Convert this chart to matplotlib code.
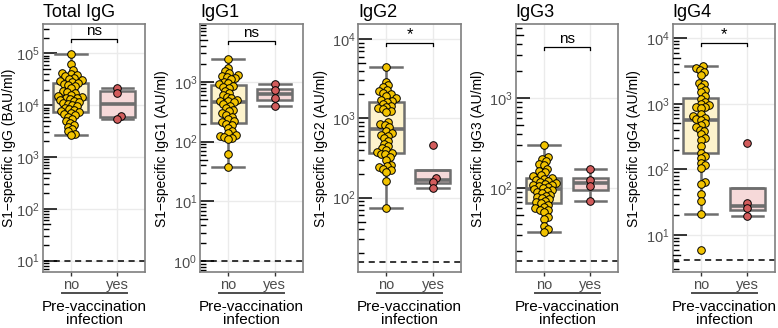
#!/usr/bin/env python3

import numpy as np
import matplotlib.pyplot as plt
import matplotlib.transforms as mtransforms
from matplotlib import cbook
from matplotlib.ticker import LogLocator, NullFormatter

plt.rcParams['font.family'] = ['Liberation Sans', 'DejaVu Sans']
plt.rcParams['mathtext.fontset'] = 'custom'
plt.rcParams['mathtext.rm'] = 'Liberation Sans'
plt.rcParams['mathtext.it'] = 'Liberation Sans:italic'
plt.rcParams['mathtext.bf'] = 'Liberation Sans:bold'

titles = ["Total IgG", "IgG1", "IgG2", "IgG3", "IgG4"]
ylabels = ["S1\u2212specific IgG (BAU/ml)", "S1\u2212specific IgG1 (AU/ml)",
           "S1\u2212specific IgG2 (AU/ml)", "S1\u2212specific IgG3 (AU/ml)",
           "S1\u2212specific IgG4 (AU/ml)"]
categories = ["no", "yes"]
signif = ["ns", "ns", "*", "ns", "*"]
lod = [10, 1, 15.6, 15.6, 4.1]

# values, group "no" (no pre-vaccination infection)
total_no = [95000, 62000, 48000, 42000, 40000, 38000, 36000, 34000, 32000, 30000,
            29000, 28000, 27000, 26000, 25000, 23000, 21000, 19000, 18000, 17000,
            16000, 15000, 14500, 14000, 13500, 13000, 12500, 12000, 11500, 11000,
            10500, 10000, 9500, 9000, 8600, 8200, 7800, 7400, 7100, 6800,
            6400, 6000, 5500, 5000, 4600, 4200, 3800, 3500, 3100, 2800, 2600]
igg1_no = [2400, 1700, 1500, 1400, 1300, 1250, 1200, 1150, 1100, 1000,
           950, 900, 850, 820, 780, 700, 650, 600, 560, 530,
           500, 480, 470, 450, 420, 400, 370, 340, 320, 300,
           280, 260, 240, 220, 210, 200, 190, 170, 150, 140,
           130, 125, 120, 115, 110, 62, 37]
igg2_no = [4400, 2900, 2600, 2500, 2300, 2200, 2100, 2000, 1900, 1800,
           1700, 1650, 1600, 1500, 1450, 1400, 1350, 1300, 1250, 1200,
           900, 850, 820, 780, 700, 650, 620, 600, 560, 520,
           480, 450, 420, 400, 380, 370, 360, 350, 330, 300,
           260, 250, 240, 230, 220, 210, 160, 75]
igg3_no = [300, 220, 210, 200, 185, 180, 165, 155, 150, 140,
           135, 130, 128, 125, 120, 118, 115, 112, 110, 108,
           105, 103, 100, 98, 95, 92, 90, 88, 85, 82,
           80, 78, 75, 72, 70, 68, 65, 62, 60, 58,
           57, 55, 48, 45, 38, 35, 33]
igg4_no = [3800, 3500, 3300, 3000, 2700, 2100, 2000, 1800, 1600, 1500,
           1300, 1200, 1050, 1000, 950, 900, 880, 850, 700, 650,
           600, 580, 560, 500, 470, 440, 400, 380, 340, 300,
           280, 230, 180, 160, 150, 125, 115, 105, 65, 60,
           42, 33, 21, 6]

# group "yes"
total_yes = [21500, 17500, 6200, 5400]
igg1_yes = [900, 720, 530, 400]
igg2_yes = [455, 176, 159, 131]
igg3_yes = [162, 122, 106, 73]
igg4_yes = [254, 31, 25.4, 19.7]

no_groups = [total_no, igg1_no, igg2_no, igg3_no, igg4_no]
yes_groups = [total_yes, igg1_yes, igg2_yes, igg3_yes, igg4_yes]

ylims_log = [(0.78, 5.56), (-0.18, 3.96), (1.063, 4.185), (1.07, 3.82), (0.436, 4.21)]
bracket_y = [0.94, 0.932, 0.923, 0.91, 0.923]
lefts = [42.7, 200.0, 358.3, 515.7, 672.7]
ylabel_x = [-0.325, -0.37, -0.36, -0.37, -0.38]

grey = '#6E6E6E'
txt_grey = '#4D4D4D'
fills = ['#FDF3CC', '#F6D9D9']
pt_cols = ['#F2C300', '#D25C5C']


def log_stats(vals):
    # ggplot computes the box on the log scale
    st = cbook.boxplot_stats(np.log10(vals), whis=1.5)[0]
    for k in ('med', 'q1', 'q3', 'whislo', 'whishi', 'mean'):
        st[k] = 10 ** st[k]
    st['fliers'] = []
    return st


def swarm(ypix, dist):
    order = np.argsort(ypix)
    xs = np.zeros(len(ypix))
    placed = []
    for i in order:
        y = ypix[i]
        cands = [0.0]
        for j in placed:
            dy = y - ypix[j]
            if abs(dy) < dist:
                dx = np.sqrt(dist ** 2 - dy ** 2)
                cands += [xs[j] + dx, xs[j] - dx]
        cands.sort(key=abs)
        for c in cands:
            if all((c - xs[j]) ** 2 + (y - ypix[j]) ** 2 >= dist ** 2 - 1e-6 for j in placed):
                xs[i] = c
                break
        placed.append(i)
    return xs


W, H = 778, 328
fig = plt.figure(figsize=(W / 100, H / 100), dpi=100)

for p in range(5):
    ax = fig.add_axes([lefts[p] / W, (H - 272) / H, 102.7 / W, 247.7 / H])
    ax.set_yscale('log')
    ax.set_xlim(0.4, 2.6)
    ax.set_ylim(10 ** ylims_log[p][0], 10 ** ylims_log[p][1])

    ax.grid(True, which='major', color='#EBEBEB', lw=1.0)
    ax.set_axisbelow(True)
    for s in ax.spines.values():
        s.set_color('#7F7F7F')
        s.set_linewidth(1.2)

    ax.axhline(lod[p], color='black', ls=(0, (4, 3)), lw=1.1, zorder=1.5)

    stats = [log_stats(no_groups[p]), log_stats(yes_groups[p])]
    bp = ax.bxp(stats, positions=[1, 2], widths=0.75, capwidths=0.68,
                patch_artist=True, showfliers=False,
                boxprops=dict(edgecolor=grey, linewidth=1.8),
                whiskerprops=dict(color=grey, linewidth=1.8),
                capprops=dict(color=grey, linewidth=1.8),
                medianprops=dict(color=grey, linewidth=2.6))
    for box, fc in zip(bp['boxes'], fills):
        box.set_facecolor(fc)

    # beeswarm layout in pixel space
    fig.canvas.draw()
    xscale = 2.2 / 102.7
    for g, vals in enumerate([no_groups[p], yes_groups[p]]):
        vals = np.array(vals, dtype=float)
        ypix = ax.transData.transform(np.column_stack([np.ones(len(vals)), vals]))[:, 1]
        off = swarm(ypix, 4.6)
        ax.scatter(g + 1 + off * xscale, vals, s=30, color=pt_cols[g],
                   edgecolor='black', linewidth=0.7, zorder=3)

    # y ticks (log ticks drawn inside like annotation_logticks)
    ax.yaxis.set_minor_locator(LogLocator(base=10, subs=(2, 3, 4, 6, 7, 8, 9), numticks=20))
    ax.yaxis.set_minor_formatter(NullFormatter())
    ax.tick_params(axis='y', which='major', direction='in', length=10, width=1.1,
                   color='black', labelsize=10.5, labelcolor=txt_grey, pad=2)
    ax.tick_params(axis='y', which='minor', direction='in', length=4, width=1.0, color='black')
    trans = mtransforms.blended_transform_factory(ax.transAxes, ax.transData)
    for k in range(-1, 7):
        v = 5 * 10 ** k
        if ax.get_ylim()[0] < v < ax.get_ylim()[1]:
            ax.plot([0, 0.068], [v, v], transform=trans, color='black', lw=1.0, zorder=4)

    ax.set_xticks([1, 2])
    ax.set_xticklabels(categories)
    ax.tick_params(axis='x', direction='out', length=3, width=1.0, color='#333333',
                   labelsize=10.5, labelcolor=txt_grey, pad=1)

    xtrans = mtransforms.blended_transform_factory(ax.transData, ax.transAxes)
    ax.plot([0.81, 2.2], [-0.083, -0.083], transform=xtrans, color=txt_grey,
            lw=1.4, clip_on=False)

    # significance bracket
    by = bracket_y[p]
    ax.plot([1, 1, 2, 2], [by - 0.012, by, by, by - 0.012], transform=xtrans,
            color='black', lw=0.9, zorder=5)
    ax.text(1.5, by + 0.004, signif[p], transform=xtrans, ha='center', va='bottom',
            fontsize=11 if signif[p] == 'ns' else 12)

    ax.set_title(titles[p], loc='left', fontsize=13, pad=5)
    ax.set_ylabel(ylabels[p], fontsize=10, va='center')
    ax.yaxis.set_label_coords(ylabel_x[p], 0.5)
    ax.set_xlabel("Pre-vaccination\ninfection", fontsize=11, labelpad=6, linespacing=0.95)

fig.savefig('out.png', dpi=100)
plt.close()
